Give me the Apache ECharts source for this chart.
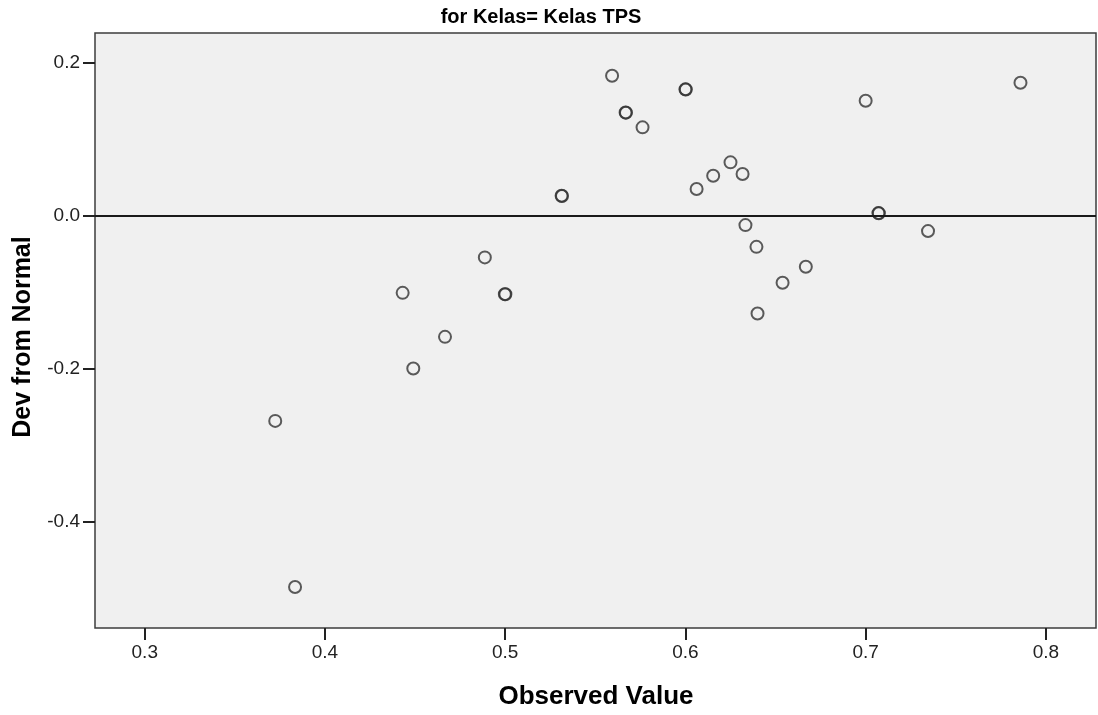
<!DOCTYPE html>
<html>
<head>
<meta charset="utf-8">
<script src="https://cdn.jsdelivr.net/npm/echarts@6/dist/echarts.min.js"></script>
<style>
  html, body { margin: 0; padding: 0; background: #ffffff; }
  #chart { width: 1098px; height: 715px; }
</style>
</head>
<body>
<div id="chart"></div>
<script>
// ---- data ----
const chartSubtitle = 'for Kelas= Kelas TPS';
const xAxisTitle = 'Observed Value';
const yAxisTitle = 'Dev from Normal';

const xTickValues = [0.3, 0.4, 0.5, 0.6, 0.7, 0.8];
const yTickValues = [-0.4, -0.2, 0.0, 0.2];

const observedValue = [
  0.3834, 0.3724, 0.4431, 0.4490, 0.4666, 0.4887, 0.4998, 0.5001,
  0.5313, 0.5315, 0.5593, 0.5668, 0.5670, 0.5762, 0.6000, 0.6002,
  0.6062, 0.6154, 0.6250, 0.6317, 0.6333, 0.6394, 0.6400, 0.6539,
  0.6668, 0.7000, 0.7071, 0.7073, 0.7346, 0.7859
];
const devFromNormal = [
  -0.4851, -0.2681, -0.1008, -0.1996, -0.1583, -0.0545, -0.1025, -0.1027,
  0.0260, 0.0258, 0.1829, 0.1348, 0.1346, 0.1154, 0.1651, 0.1649,
  0.0348, 0.0522, 0.0697, 0.0544, -0.0123, -0.0407, -0.1277, -0.0877,
  -0.0668, 0.1502, 0.0034, 0.0032, -0.0201, 0.1737
];

const points = observedValue.map((v, i) => [v, devFromNormal[i]]);

const chart = echarts.init(document.getElementById('chart'), null, { renderer: 'canvas' });
const FONT = '"Liberation Sans", Arial, sans-serif';

chart.setOption({
  animation: false,
  backgroundColor: '#ffffff',
  grid: {
    left: 95, right: 2, top: 33, bottom: 87,
    show: true,
    backgroundColor: '#f0f0f0',
    borderColor: '#3c3c3c',
    borderWidth: 1.5
  },
  xAxis: {
    type: 'value',
    min: 0.2724, max: 0.8278,
    axisLine: { show: false, onZero: false },
    splitLine: { show: false },
    axisTick: {
      show: true, customValues: xTickValues, length: 12, inside: false,
      lineStyle: { color: '#222', width: 2 }
    },
    axisLabel: {
      show: true, customValues: xTickValues, margin: 15,
      formatter: v => Number(v).toFixed(1),
      color: '#222', fontFamily: FONT, fontSize: 19
    }
  },
  yAxis: {
    type: 'value',
    min: -0.5387, max: 0.2387,
    axisLine: { show: false, onZero: false },
    splitLine: { show: false },
    axisTick: {
      show: true, customValues: yTickValues, length: 12, inside: false,
      lineStyle: { color: '#222', width: 2 }
    },
    axisLabel: {
      show: true, customValues: yTickValues, margin: 15,
      formatter: v => Number(v).toFixed(1),
      color: '#222', fontFamily: FONT, fontSize: 19
    }
  },
  graphic: [
    {
      type: 'text', silent: true,
      style: {
        text: chartSubtitle, x: 541, y: 17,
        textAlign: 'center', textVerticalAlign: 'middle',
        font: 'bold 20px ' + FONT, fill: '#000'
      }
    },
    {
      type: 'text', silent: true,
      style: {
        text: xAxisTitle, x: 596, y: 697,
        textAlign: 'center', textVerticalAlign: 'middle',
        font: 'bold 26px ' + FONT, fill: '#000'
      }
    },
    {
      type: 'text', silent: true,
      x: 23, y: 337, rotation: Math.PI / 2,
      style: {
        text: yAxisTitle, x: 0, y: 0,
        textAlign: 'center', textVerticalAlign: 'middle',
        font: 'bold 25px ' + FONT, fill: '#000'
      }
    }
  ],
  series: [
    {
      type: 'scatter',
      data: points,
      symbol: 'circle',
      symbolSize: 12,
      itemStyle: {
        color: 'rgba(0,0,0,0)',
        borderColor: '#333333',
        borderWidth: 2
      },
      emphasis: { disabled: true },
      markLine: {
        silent: true,
        symbol: ['none', 'none'],
        label: { show: false },
        lineStyle: { color: '#1a1a1a', width: 2, type: 'solid' },
        data: [{ yAxis: 0 }]
      },
      z: 3
    }
  ]
});
</script>
</body>
</html>
